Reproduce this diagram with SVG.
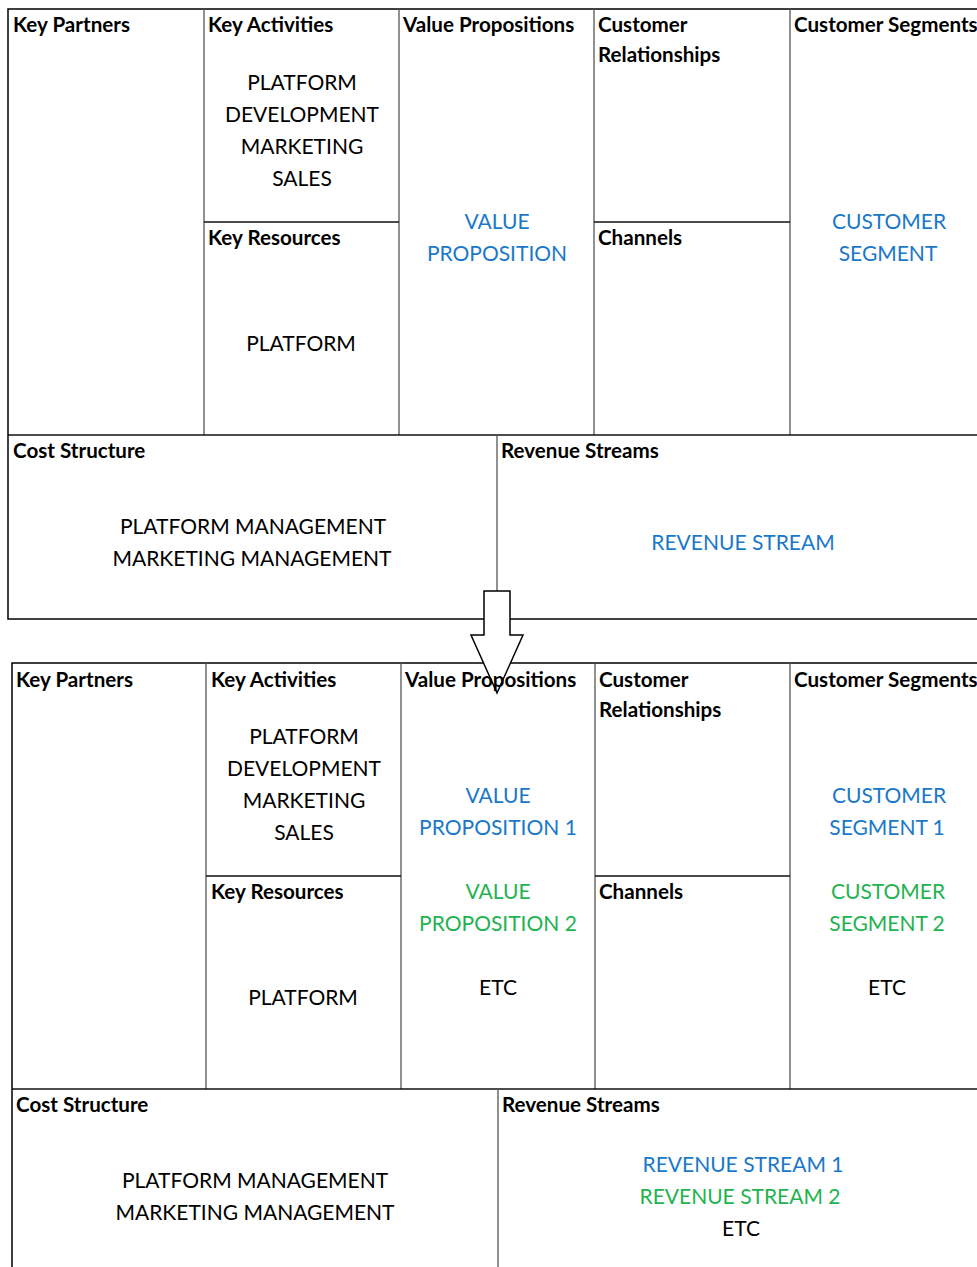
<svg xmlns="http://www.w3.org/2000/svg" width="977" height="1267" viewBox="0 0 977 1267">
  <style>
    .hd { font-family: Lato, "Open Sans", sans-serif; font-weight: bold; font-size: 20.6px; fill: #000; }
    .tx { font-family: Lato, "Open Sans", sans-serif; font-size: 21px; text-anchor: middle; fill: #000; }
    .blue { fill: #1a78c8; }
    .green { fill: #1fb350; }
    .frame { fill: none; stroke: #000; stroke-width: 1.5; }
    .hl { stroke: #111; stroke-width: 1.5; }
    .vl { stroke: #555; stroke-width: 1.3; }
  </style>
  <rect width="977" height="1267" fill="#fff"/>

  <!-- Upper canvas -->
  <g id="canvas-before">
    <g id="grid-before">
      <rect class="frame" x="8" y="9" width="980" height="610"/>
      <line class="vl" x1="204" y1="9" x2="204" y2="435"/>
      <line class="vl" x1="399" y1="9" x2="399" y2="435"/>
      <line class="vl" x1="594" y1="9" x2="594" y2="435"/>
      <line class="vl" x1="790" y1="9" x2="790" y2="435"/>
      <line class="hl" x1="204" y1="222" x2="399" y2="222"/>
      <line class="hl" x1="594" y1="222" x2="790" y2="222"/>
      <line class="hl" x1="8" y1="435" x2="977" y2="435"/>
      <line class="vl" x1="497" y1="435" x2="497" y2="619"/>
    </g>
    <g id="b-key-partners"><text class="hd" x="13" y="32">Key Partners</text></g>
    <g id="b-key-activities">
      <text class="hd" x="208" y="32">Key Activities</text>
      <text class="tx" x="302" y="90">PLATFORM</text>
      <text class="tx" x="302" y="122">DEVELOPMENT</text>
      <text class="tx" x="302" y="154">MARKETING</text>
      <text class="tx" x="302" y="186">SALES</text>
    </g>
    <g id="b-key-resources">
      <text class="hd" x="208" y="245">Key Resources</text>
      <text class="tx" x="301" y="351">PLATFORM</text>
    </g>
    <g id="b-value-propositions">
      <text class="hd" x="403" y="32">Value Propositions</text>
      <text class="tx blue" x="497" y="229">VALUE</text>
      <text class="tx blue" x="497" y="261">PROPOSITION</text>
    </g>
    <g id="b-customer-relationships">
      <text class="hd" x="598" y="32">Customer</text>
      <text class="hd" x="598" y="62">Relationships</text>
    </g>
    <g id="b-channels"><text class="hd" x="598" y="245">Channels</text></g>
    <g id="b-customer-segments">
      <text class="hd" x="794" y="32">Customer Segments</text>
      <text class="tx blue" x="889" y="229">CUSTOMER</text>
      <text class="tx blue" x="888" y="261">SEGMENT</text>
    </g>
    <g id="b-cost-structure">
      <text class="hd" x="13" y="458">Cost Structure</text>
      <text class="tx" x="253" y="534">PLATFORM MANAGEMENT</text>
      <text class="tx" x="252" y="566">MARKETING MANAGEMENT</text>
    </g>
    <g id="b-revenue-streams">
      <text class="hd" x="501" y="458">Revenue Streams</text>
      <text class="tx blue" x="743" y="550">REVENUE STREAM</text>
    </g>
  </g>

  <!-- Lower canvas -->
  <g id="canvas-after">
    <g id="grid-after">
      <rect class="frame" x="12" y="663" width="980" height="640"/>
      <line class="vl" x1="206" y1="663" x2="206" y2="1089"/>
      <line class="vl" x1="401" y1="663" x2="401" y2="1089"/>
      <line class="vl" x1="595" y1="663" x2="595" y2="1089"/>
      <line class="vl" x1="790" y1="663" x2="790" y2="1089"/>
      <line class="hl" x1="206" y1="876" x2="401" y2="876"/>
      <line class="hl" x1="595" y1="876" x2="790" y2="876"/>
      <line class="hl" x1="12" y1="1089" x2="977" y2="1089"/>
      <line class="vl" x1="498" y1="1089" x2="498" y2="1267"/>
    </g>
    <g id="a-key-partners"><text class="hd" x="16" y="687">Key Partners</text></g>
    <g id="a-key-activities">
      <text class="hd" x="211" y="687">Key Activities</text>
      <text class="tx" x="304" y="744">PLATFORM</text>
      <text class="tx" x="304" y="776">DEVELOPMENT</text>
      <text class="tx" x="304" y="808">MARKETING</text>
      <text class="tx" x="304" y="840">SALES</text>
    </g>
    <g id="a-key-resources">
      <text class="hd" x="211" y="899">Key Resources</text>
      <text class="tx" x="303" y="1005">PLATFORM</text>
    </g>
    <g id="a-customer-relationships">
      <text class="hd" x="599" y="687">Customer</text>
      <text class="hd" x="599" y="717">Relationships</text>
    </g>
    <g id="a-channels"><text class="hd" x="599" y="899">Channels</text></g>
    <g id="a-customer-segments">
      <text class="hd" x="794" y="687">Customer Segments</text>
      <text class="tx blue" x="889" y="803">CUSTOMER</text>
      <text class="tx blue" x="887" y="835">SEGMENT 1</text>
      <text class="tx green" x="888" y="899">CUSTOMER</text>
      <text class="tx green" x="887" y="931">SEGMENT 2</text>
      <text class="tx" x="887" y="995">ETC</text>
    </g>
    <g id="a-cost-structure">
      <text class="hd" x="16" y="1112">Cost Structure</text>
      <text class="tx" x="255" y="1188">PLATFORM MANAGEMENT</text>
      <text class="tx" x="255" y="1220">MARKETING MANAGEMENT</text>
    </g>
    <g id="a-revenue-streams">
      <text class="hd" x="502" y="1112">Revenue Streams</text>
      <text class="tx blue" x="743" y="1172">REVENUE STREAM 1</text>
      <text class="tx green" x="740" y="1204">REVENUE STREAM 2</text>
      <text class="tx" x="741" y="1236">ETC</text>
    </g>
  </g>

  <!-- Transition arrow between the two canvases -->
  <g id="connectors">
    <polygon points="484,591 510,591 510,635 523,635 497,693 471,635 484,635" fill="#fff" stroke="#000" stroke-width="1.5" stroke-linejoin="miter"/>
  </g>

  <g id="a-value-propositions">
    <text class="hd" x="405" y="687">Value Propositions</text>
    <text class="tx blue" x="498" y="803">VALUE</text>
    <text class="tx blue" x="498" y="835">PROPOSITION 1</text>
    <text class="tx green" x="498" y="899">VALUE</text>
    <text class="tx green" x="498" y="931">PROPOSITION 2</text>
    <text class="tx" x="498" y="995">ETC</text>
  </g>
</svg>
